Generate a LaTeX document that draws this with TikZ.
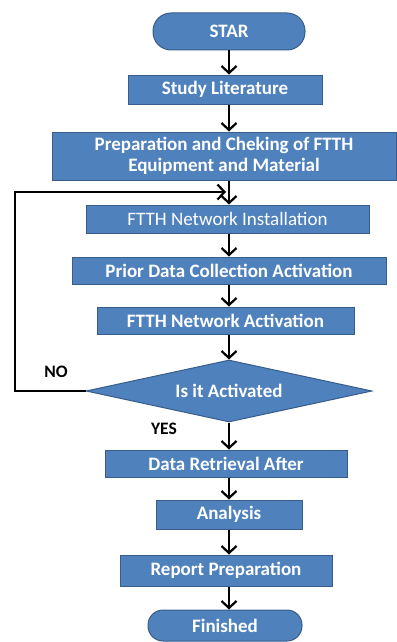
\documentclass[tikz,border=0pt]{standalone}
\usepackage{fontspec}
\setmainfont{Carlito}
\usetikzlibrary{arrows.meta,shapes.geometric}
\definecolor{boxblue}{HTML}{4F81BD}
\definecolor{boxedge}{HTML}{385D8A}
\begin{document}
\begin{tikzpicture}[x=1pt,y=-1pt,
  base/.style={draw=boxedge, line width=1pt, fill=boxblue, text=white, font=\fontsize{19}{21}\selectfont\bfseries, align=center, inner sep=0pt},
  box/.style={base, rectangle, minimum width=#1},
  pill/.style={base, rectangle, rounded corners=15pt, minimum width=#1},
  arr/.style={line width=2.5pt, -{Straight Barb[length=7pt,width=15pt,line width=2.2pt]}},
  lab/.style={font=\fontsize{17.5}{19}\selectfont\bfseries, text=black, inner sep=0pt}]
\useasboundingbox (0,0) rectangle (396,642);
\coordinate (ax) at (229,0);
\node[pill=152pt, minimum height=37pt, rounded corners=18pt] (star) at (229,31.5) {STAR};
\node[box=194pt, minimum height=29pt] (lit) at (225,89.5) {Study Literature};
\node[box=344pt, minimum height=48pt] (prep) at (224,156) {Preparation and Cheking of FTTH\\Equipment and Material};
\node[box=283pt, minimum height=28pt, font=\fontsize{19}{21}\selectfont] (inst) at (227.5,219) {FTTH Network Installation};
\node[box=314pt, minimum height=27pt] (prior) at (229,270.5) {Prior Data Collection Activation};
\node[box=257pt, minimum height=27pt] (act) at (225.5,320.5) {FTTH Network Activation};
\node[base, diamond, minimum width=286pt, minimum height=62pt, aspect=4.6] (dec) at (229,391) {Is it Activated};
\node[box=242pt, minimum height=27pt] (ret) at (226,463.5) {Data Retrieval After};
\node[box=146pt, minimum height=29pt] (ana) at (229,514.5) {Analysis};
\node[box=212pt, minimum height=31pt] (rep) at (226,570.5) {Report Preparation};
\node[pill=154pt, minimum height=31pt] (fin) at (225,625.5) {Finished};
\node[lab] (no) at (56,372) {NO};
\node[lab] (yes) at (164,429) {YES};
\draw[arr] (star.south -| ax) -- (lit.north -| ax);
\draw[arr] (lit.south -| ax) -- (prep.north -| ax);
\draw[arr] (prep.south -| ax) -- (inst.north -| ax);
\draw[arr] (inst.south -| ax) -- (prior.north -| ax);
\draw[arr] (prior.south -| ax) -- (act.north -| ax);
\draw[arr] (act.south -| ax) -- (dec.north);
\draw[arr] (dec.south) -- (ret.north -| ax);
\draw[arr] (ret.south -| ax) -- (ana.north -| ax);
\draw[arr] (ana.south -| ax) -- (rep.north -| ax);
\draw[arr] (rep.south -| ax) -- (fin.north -| ax);
\coordinate (lp) at (226,192);
\draw[arr] (dec.west) -- (15,391) -- (15,192) -- (lp);
\end{tikzpicture}
\end{document}
